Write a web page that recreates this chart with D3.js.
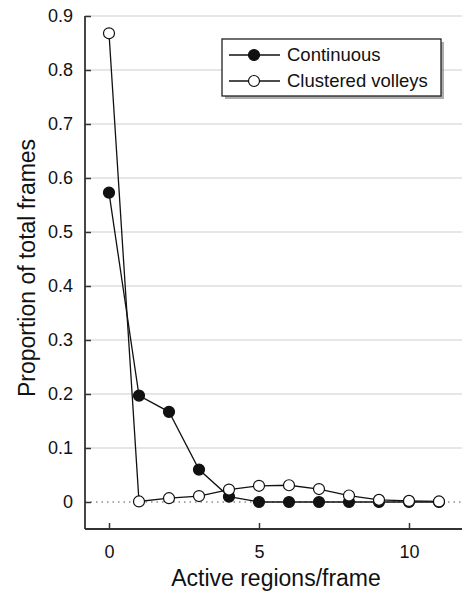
<!DOCTYPE html>
<html>
<head>
<meta charset="utf-8">
<script src="https://cdn.jsdelivr.net/npm/d3@7"></script>
<style>
  body { margin: 0; background: #fff; }
  svg { font-family: "Liberation Sans", Arial, sans-serif; }
</style>
</head>
<body>
<div id="chart"></div>
<script>
// datos
var xValues = [0, 1, 2, 3, 4, 5, 6, 7, 8, 9, 10, 11];
var continuous = [0.573, 0.197, 0.167, 0.060, 0.010, 0.000, 0.000, 0.000, 0.000, 0.000, 0.000, 0.000];
var clustered = [0.868, 0.001, 0.007, 0.011, 0.023, 0.030, 0.031, 0.024, 0.012, 0.004, 0.002, 0.001];
var yTicks = [0, 0.1, 0.2, 0.3, 0.4, 0.5, 0.6, 0.7, 0.8, 0.9];
var xTicks = [0, 5, 10];

var width = 462;
var height = 592;

var svg = d3.select("#chart")
  .append("svg")
  .attr("width", width)
  .attr("height", height);

// margenes del area de la grafica
var pLeft = 85, pRight = 462, pTop = 16, pBottom = 529;
var xScale = d3.scaleLinear().domain([-0.8, 11.767]).range([pLeft, pRight]);
var yScale = d3.scaleLinear().domain([-0.05, 0.9]).range([pBottom, pTop]);

// grid
svg.append("g")
  .selectAll("line")
  .data(yTicks.filter(function(d) { return d > 0; }))
  .enter()
  .append("line")
  .attr("x1", pLeft)
  .attr("x2", pRight)
  .attr("y1", function(d) { return yScale(d); })
  .attr("y2", function(d) { return yScale(d); })
  .attr("stroke", "#dedede")
  .attr("stroke-width", 1.5);

// linea punteada en cero
svg.append("line")
  .attr("x1", pLeft)
  .attr("x2", pRight)
  .attr("y1", yScale(0))
  .attr("y2", yScale(0))
  .attr("stroke", "#555")
  .attr("stroke-width", 1.2)
  .attr("stroke-dasharray", "1.5,4");

// ejes
var yAxis = d3.axisLeft(yScale)
  .tickValues(yTicks)
  .tickSize(-6)
  .tickPadding(12)
  .tickFormat(function(d) { return d === 0 ? "0" : d3.format(".1f")(d); });

var xAxis = d3.axisBottom(xScale)
  .tickValues(xTicks)
  .tickSize(-6)
  .tickPadding(16);

svg.append("g")
  .attr("class", "yAxis")
  .attr("transform", "translate(" + pLeft + ",0)")
  .call(yAxis);

svg.append("g")
  .attr("class", "xAxis")
  .attr("transform", "translate(0," + pBottom + ")")
  .call(xAxis);

svg.selectAll(".yAxis .domain, .xAxis .domain").remove();
svg.selectAll(".tick line").attr("stroke", "#333").attr("stroke-width", 1.5);
svg.selectAll(".tick text").attr("font-size", 18).attr("fill", "#111");

// lineas de eje
svg.append("line")
  .attr("x1", pLeft).attr("x2", pLeft)
  .attr("y1", pTop).attr("y2", pBottom)
  .attr("stroke", "#333").attr("stroke-width", 1.8);
svg.append("line")
  .attr("x1", pLeft).attr("x2", pRight)
  .attr("y1", pBottom).attr("y2", pBottom)
  .attr("stroke", "#333").attr("stroke-width", 1.8);

// titulos
svg.append("text")
  .attr("x", 276)
  .attr("y", 586)
  .attr("text-anchor", "middle")
  .attr("font-size", 23)
  .attr("fill", "#111")
  .text("Active regions/frame");

svg.append("text")
  .attr("transform", "translate(35," + 268 + ")rotate(-90)")
  .attr("text-anchor", "middle")
  .attr("font-size", 23)
  .attr("fill", "#111")
  .text("Proportion of total frames");

// series
var line = d3.line()
  .x(function(d) { return xScale(d[0]); })
  .y(function(d) { return yScale(d[1]); });

var contData = xValues.map(function(x, i) { return [x, continuous[i]]; });
var clusData = xValues.map(function(x, i) { return [x, clustered[i]]; });

function drawSeries(data, fill) {
  svg.append("path")
    .datum(data)
    .attr("d", line)
    .attr("fill", "none")
    .attr("stroke", "#111")
    .attr("stroke-width", 1.3);
  svg.append("g")
    .selectAll("circle")
    .data(data)
    .enter()
    .append("circle")
    .attr("cx", function(d) { return xScale(d[0]); })
    .attr("cy", function(d) { return yScale(d[1]); })
    .attr("r", 5.5)
    .attr("fill", fill)
    .attr("stroke", "#111")
    .attr("stroke-width", 1.2);
}
drawSeries(contData, "#111");
drawSeries(clusData, "#fff");

// leyenda
var legend = svg.append("g").attr("transform", "translate(222,39)");
legend.append("rect")
  .attr("x", 3).attr("y", 3)
  .attr("width", 219).attr("height", 57)
  .attr("fill", "#777")
  .attr("opacity", 0.6);
legend.append("rect")
  .attr("width", 219).attr("height", 57)
  .attr("fill", "#fff")
  .attr("stroke", "#222")
  .attr("stroke-width", 1.3);

var legendItems = [["Continuous", "#111"], ["Clustered volleys", "#fff"]];
legendItems.forEach(function(item, i) {
  var ly = 16 + i * 26;
  legend.append("line")
    .attr("x1", 7).attr("x2", 58)
    .attr("y1", ly).attr("y2", ly)
    .attr("stroke", "#111").attr("stroke-width", 1.3);
  legend.append("circle")
    .attr("cx", 32).attr("cy", ly).attr("r", 5.5)
    .attr("fill", item[1]).attr("stroke", "#111").attr("stroke-width", 1.2);
  legend.append("text")
    .attr("x", 65).attr("y", ly + 6)
    .attr("font-size", 18.5)
    .attr("fill", "#111")
    .text(item[0]);
});
</script>
</body>
</html>
